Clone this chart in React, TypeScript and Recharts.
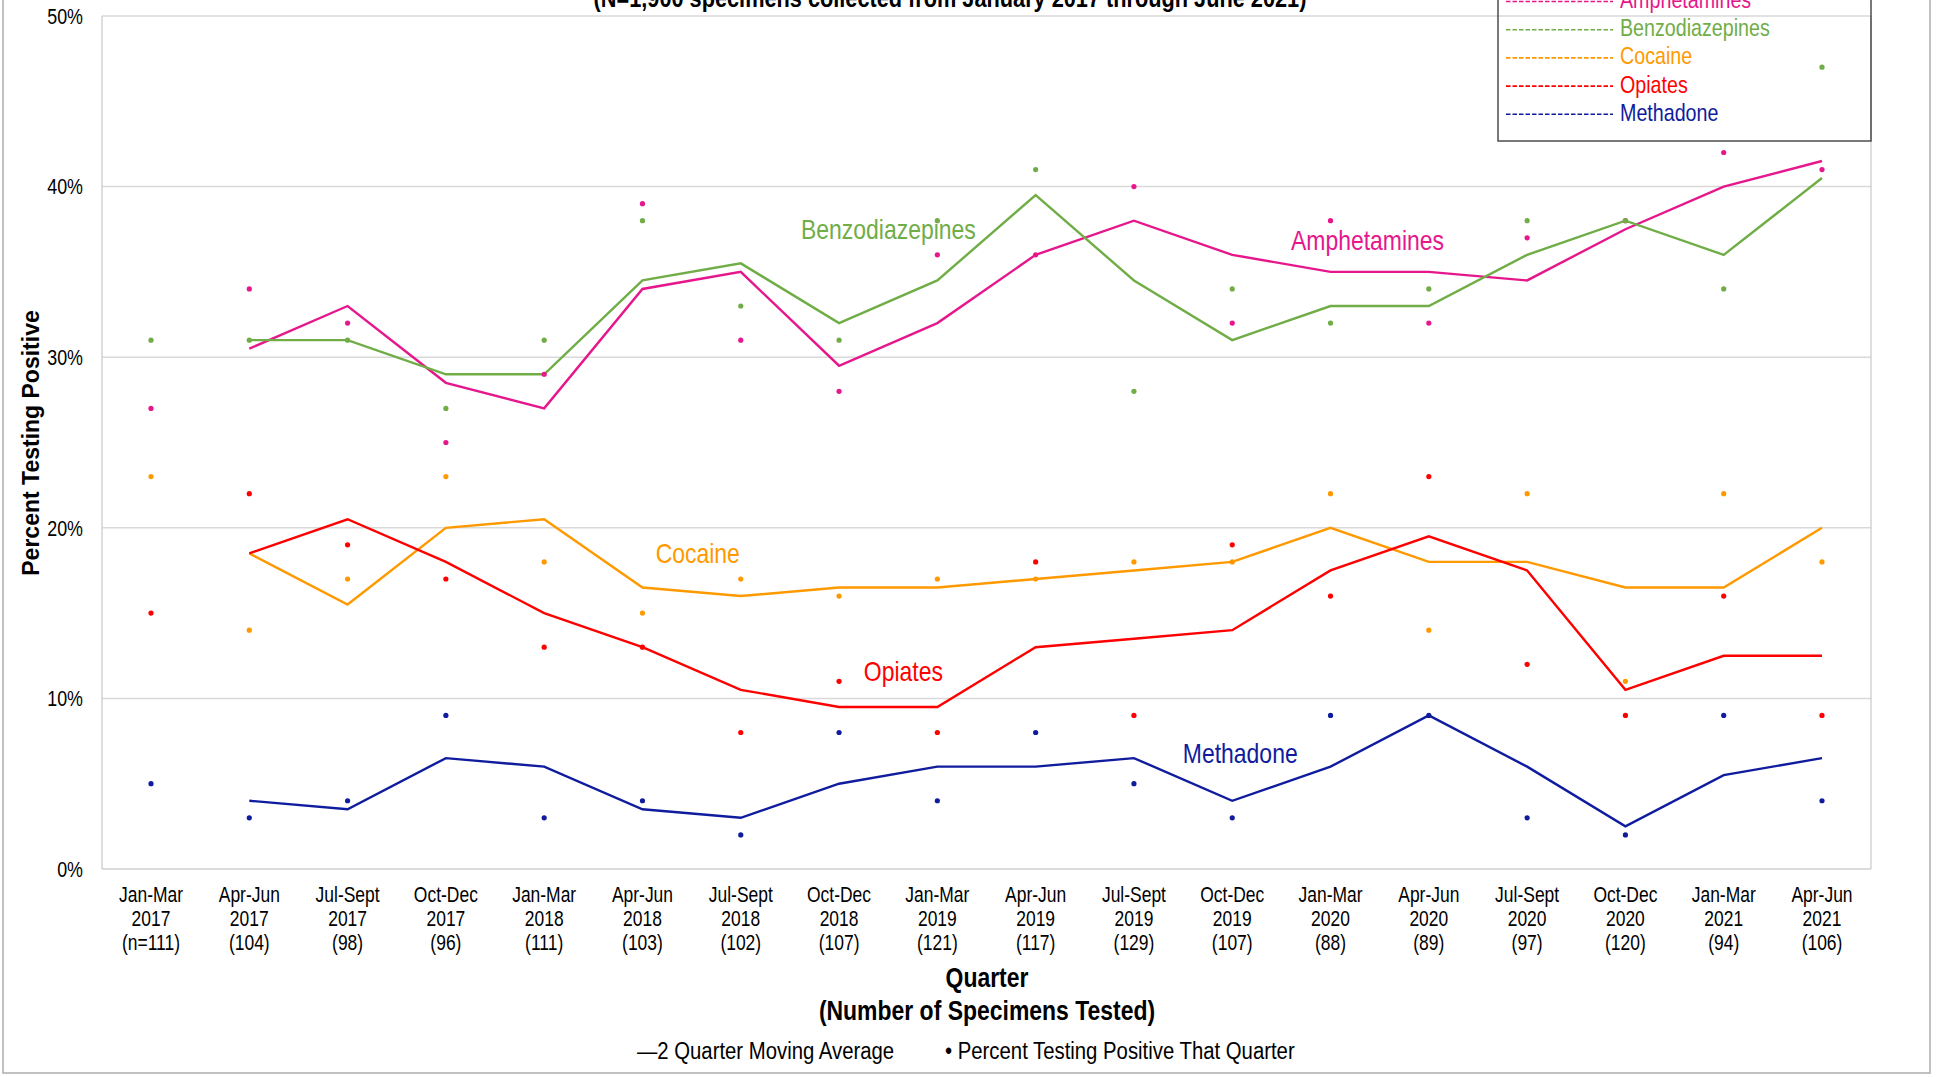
import React from 'react';
import { LineChart, Line, XAxis, YAxis, CartesianGrid, ReferenceDot } from 'recharts';

// ---------- data ----------
const quarters = ['Jan-Mar', 'Apr-Jun', 'Jul-Sept', 'Oct-Dec', 'Jan-Mar', 'Apr-Jun', 'Jul-Sept', 'Oct-Dec', 'Jan-Mar', 'Apr-Jun', 'Jul-Sept', 'Oct-Dec', 'Jan-Mar', 'Apr-Jun', 'Jul-Sept', 'Oct-Dec', 'Jan-Mar', 'Apr-Jun'];
const years = ['2017', '2017', '2017', '2017', '2018', '2018', '2018', '2018', '2019', '2019', '2019', '2019', '2020', '2020', '2020', '2020', '2021', '2021'];
const specimenCounts = ['(n=111)', '(104)', '(98)', '(96)', '(111)', '(103)', '(102)', '(107)', '(121)', '(117)', '(129)', '(107)', '(88)', '(89)', '(97)', '(120)', '(94)', '(106)'];
const categories = quarters.map((q, i) => `${q} ${years[i]}`);

const yTicks = [0, 10, 20, 30, 40, 50];

const amphQuarter = [27, 34, 32, 25, 29, 39, 31, 28, 36, 36, 40, 32, 38, 32, 37, 38, 42, 41];
const amphAvg = [null, 30.5, 33, 28.5, 27, 34, 35, 29.5, 32, 36, 38, 36, 35, 35, 34.5, 37.5, 40, 41.5];

const benzoQuarter = [31, 31, 31, 27, 31, 38, 33, 31, 38, 41, 28, 34, 32, 34, 38, 38, 34, 47];
const benzoAvg = [null, 31, 31, 29, 29, 34.5, 35.5, 32, 34.5, 39.5, 34.5, 31, 33, 33, 36, 38, 36, 40.5];

const cocaineQuarter = [23, 14, 17, 23, 18, 15, 17, 16, 17, 17, 18, 18, 22, 14, 22, 11, 22, 18];
const cocaineAvg = [null, 18.5, 15.5, 20, 20.5, 16.5, 16, 16.5, 16.5, 17, 17.5, 18, 20, 18, 18, 16.5, 16.5, 20];

const opiatesQuarter = [15, 22, 19, 17, 13, 13, 8, 11, 8, 18, 9, 19, 16, 23, 12, 9, 16, 9];
const opiatesAvg = [null, 18.5, 20.5, 18, 15, 13, 10.5, 9.5, 9.5, 13, 13.5, 14, 17.5, 19.5, 17.5, 10.5, 12.5, 12.5];

const methadoneQuarter = [5, 3, 4, 9, 3, 4, 2, 8, 4, 8, 5, 3, 9, 9, 3, 2, 9, 4];
const methadoneAvg = [null, 4, 3.5, 6.5, 6, 3.5, 3, 5, 6, 6, 6.5, 4, 6, 9, 6, 2.5, 5.5, 6.5];

const data = categories.map((category, i) => ({
  category,
  amphQ: amphQuarter[i],
  amphAvg: amphAvg[i],
  benzoQ: benzoQuarter[i],
  benzoAvg: benzoAvg[i],
  cocaineQ: cocaineQuarter[i],
  cocaineAvg: cocaineAvg[i],
  opiatesQ: opiatesQuarter[i],
  opiatesAvg: opiatesAvg[i],
  methadoneQ: methadoneQuarter[i],
  methadoneAvg: methadoneAvg[i],
}));

// ---------- styles ----------
const FONT = "'Liberation Sans', Arial, sans-serif";
const SX = 0.82; // horizontal squeeze to imitate the narrow face of the original

const COLORS = {
  amph: '#E6178C',
  benzo: '#70AD47',
  cocaine: '#FF9900',
  opiates: '#FF0000',
  methadone: '#101C9E',
};

const seriesDefs = [
  { key: 'amph', name: 'Amphetamines', color: COLORS.amph },
  { key: 'benzo', name: 'Benzodiazepines', color: COLORS.benzo },
  { key: 'cocaine', name: 'Cocaine', color: COLORS.cocaine },
  { key: 'opiates', name: 'Opiates', color: COLORS.opiates },
  { key: 'methadone', name: 'Methadone', color: COLORS.methadone },
];

// in-plot series labels anchored to a category/value, with a small pixel nudge
const annotations = [
  { text: 'Benzodiazepines', cat: 8, value: 37.5, dx: -49, color: COLORS.benzo },
  { text: 'Amphetamines', cat: 12, value: 36.9, dx: 37, color: COLORS.amph },
  { text: 'Cocaine', cat: 6, value: 18.5, dx: -43, color: COLORS.cocaine },
  { text: 'Opiates', cat: 8, value: 11.6, dx: -34, color: COLORS.opiates },
  { text: 'Methadone', cat: 11, value: 6.8, dx: 8, color: COLORS.methadone },
];

function NText(props: any) {
  const { x, y, anchor = 'start', size, weight = 'normal', fill = '#000', dy, children } = props;
  return (
    <text
      transform={`translate(${x} ${y}) scale(${SX} 1)`}
      x={0}
      y={0}
      dy={dy}
      textAnchor={anchor}
      fontFamily={FONT}
      fontSize={size}
      fontWeight={weight}
      fill={fill}
    >
      {children}
    </text>
  );
}

function QuarterTick(props: any) {
  const { x, y, payload } = props;
  const i = categories.indexOf(payload.value);
  return (
    <text
      transform={`translate(${x} ${y}) scale(${SX} 1)`}
      x={0}
      y={0}
      textAnchor="middle"
      fontFamily={FONT}
      fontSize={21.3}
      fill="#000"
    >
      <tspan x={0} dy={33}>{quarters[i]}</tspan>
      <tspan x={0} dy={24}>{years[i]}</tspan>
      <tspan x={0} dy={24}>{specimenCounts[i]}</tspan>
    </text>
  );
}

function PercentTick(props: any) {
  const { x, y, payload, textAnchor } = props;
  return (
    <NText x={x} y={y} anchor={textAnchor} size={21.8} dy="0.36em">
      {`${payload.value}%`}
    </NText>
  );
}

const W = 1944;
const H = 1077;

export default function App() {
  return (
    <div style={{ position: 'absolute', left: 0, top: 0, width: W, height: H, background: '#fff' }}>
      <LineChart
        width={W}
        height={H}
        data={data}
        margin={{ top: 16, right: 13, bottom: 108, left: 42 }}
      >
        <CartesianGrid vertical={false} stroke="#D9D9D9" strokeWidth={1.5} />
        <XAxis
          dataKey="category"
          interval={0}
          tick={<QuarterTick />}
          tickLine={false}
          tickSize={0}
          tickMargin={0}
          axisLine={{ stroke: '#D9D9D9', strokeWidth: 1.5 }}
          height={100}
          padding={{ left: 49, right: 49 }}
        />
        <YAxis
          domain={[0, 50]}
          ticks={yTicks}
          interval={0}
          width={60}
          tick={<PercentTick />}
          tickLine={false}
          tickSize={0}
          tickMargin={19}
          axisLine={{ stroke: '#C8C8C8', strokeWidth: 1.2 }}
        />
        <YAxis
          yAxisId="right"
          orientation="right"
          domain={[0, 50]}
          ticks={yTicks}
          interval={0}
          width={60}
          tick={<PercentTick />}
          tickLine={false}
          tickSize={0}
          tickMargin={18}
          axisLine={{ stroke: '#C8C8C8', strokeWidth: 1.2 }}
        />

        {seriesDefs.map((s) => (
          <Line
            key={`${s.key}Q`}
            dataKey={`${s.key}Q`}
            stroke="none"
            strokeWidth={0}
            dot={{ r: 2.6, fill: s.color, stroke: 'none', strokeWidth: 0 }}
            activeDot={false}
            isAnimationActive={false}
          />
        ))}
        {seriesDefs.map((s) => (
          <Line
            key={`${s.key}Avg`}
            dataKey={`${s.key}Avg`}
            stroke={s.color}
            strokeWidth={2.4}
            dot={false}
            activeDot={false}
            connectNulls={false}
            isAnimationActive={false}
          />
        ))}

        {annotations.map((a) => (
          <ReferenceDot
            key={a.text}
            x={categories[a.cat]}
            y={a.value}
            r={0}
            shape={(p: any) => (
              <NText x={p.cx + a.dx} y={p.cy} dy="0.36em" anchor="middle" size={28} fill={a.color}>
                {a.text}
              </NText>
            )}
          />
        ))}
      </LineChart>

      <svg
        width={W}
        height={H}
        style={{ position: 'absolute', left: 0, top: 0, pointerEvents: 'none' }}
      >
        {/* outer border */}
        <rect x={3} y={-4} width={1927} height={1077} fill="none" stroke="#ADADAD" strokeWidth={1.5} />

        {/* subtitle (cut off at the top edge, as in the original) */}
        <NText x={950} y={7} anchor="middle" size={26.5} weight="bold">
          (N=1,900 specimens collected from January 2017 through June 2021)
        </NText>

        {/* y-axis title */}
        <text
          x={31}
          y={443}
          transform="rotate(-90 31 443)"
          textAnchor="middle"
          dy="0.36em"
          fontFamily={FONT}
          fontWeight="bold"
          fontSize={23}
          fill="#000"
        >
          Percent Testing Positive
        </text>

        {/* x-axis titles */}
        <NText x={987} y={987} anchor="middle" size={28} weight="bold">
          Quarter
        </NText>
        <NText x={987} y={1020} anchor="middle" size={28} weight="bold">
          (Number of Specimens Tested)
        </NText>

        {/* bottom key */}
        <NText x={637} y={1059} size={24.8}>
          —2 Quarter Moving Average
        </NText>
        <NText x={945} y={1059} size={24.8}>
          • Percent Testing Positive That Quarter
        </NText>

        {/* series legend box */}
        <rect x={1498} y={-10} width={373} height={151} fill="none" stroke="#404040" strokeWidth={1.4} />
        {seriesDefs.map((s, i) => {
          const base = 8 + i * 28.2;
          return (
            <g key={s.key}>
              <line
                x1={1506}
                x2={1613}
                y1={base - 6.5}
                y2={base - 6.5}
                stroke={s.color}
                strokeWidth={1.6}
                strokeDasharray="4.5 2"
              />
              <NText x={1620} y={base} size={24} fill={s.color}>
                {s.name}
              </NText>
            </g>
          );
        })}
      </svg>
    </div>
  );
}
